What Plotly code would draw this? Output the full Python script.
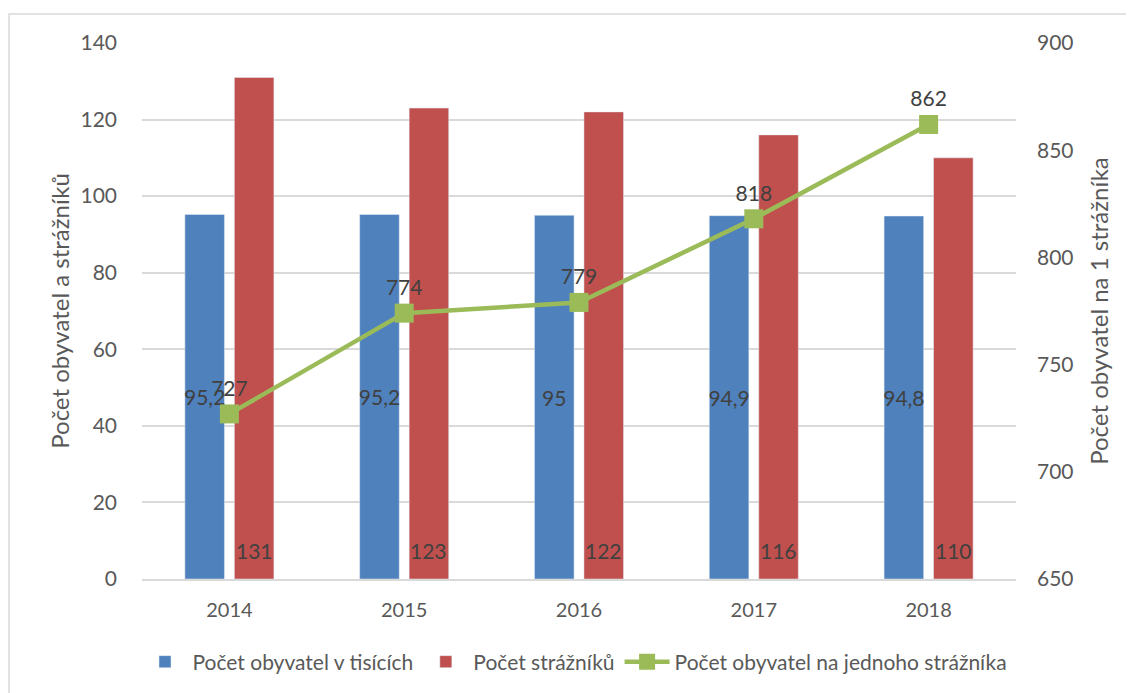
import plotly.graph_objects as go

years = ["2014", "2015", "2016", "2017", "2018"]
obyvatel_tis = [95.2, 95.2, 95.0, 94.9, 94.8]
straznici = [131, 123, 122, 116, 110]
obyv_na_straznika = [727, 774, 779, 818, 862]

names = ["Počet obyvatel v tisících", "Počet strážníků", "Počet obyvatel na jednoho strážníka"]
BLUE, RED, GREEN = "#4F81BD", "#C0504D", "#9BBB59"

W, H = 1134, 693
L, R, T, B = 134, 126, 35, 122
PW, PH = W - L - R, H - T - B

def fmt(v):
    return ("%g" % v).replace(".", ",")

FONT = "Lato, Open Sans, sans-serif"
TXT = "#404040"
TICK = "#595959"
LBL = 21

fig = go.Figure()
fig.add_trace(go.Bar(
    x=years, y=obyvatel_tis, name=names[0],
    marker=dict(color=BLUE),
    text=[fmt(v) for v in obyvatel_tis], textposition="inside",
    insidetextanchor="middle", textangle=0, constraintext="none",
    textfont=dict(color=TXT, size=LBL, family=FONT),
    cliponaxis=False,
))
fig.add_trace(go.Bar(
    x=years, y=straznici, name=names[1],
    marker=dict(color=RED),
    textposition="none",
    cliponaxis=False,
))
fig.add_trace(go.Scatter(
    x=years, y=obyv_na_straznika, name=names[2],
    yaxis="y2", mode="lines+markers+text",
    line=dict(color=GREEN, width=4.5),
    marker=dict(symbol="square", size=19, color=GREEN),
    text=[fmt(v) for v in obyv_na_straznika], textposition="top center",
    textfont=dict(color=TXT, size=LBL, family=FONT),
    cliponaxis=False,
))

# red bar labels, at the base of each bar (x given as category index)
slot = PW / len(years) * (1 - 0.434) / 2
for i, v in enumerate(straznici):
    fig.add_annotation(x=i, y=0, xref="x", yref="y", text=fmt(v),
                       showarrow=False, yanchor="bottom", yshift=14,
                       xshift=slot / 2,
                       font=dict(color=TXT, size=LBL, family=FONT))

fig.update_layout(
    width=W, height=H,
    margin=dict(l=L, r=R, t=T, b=B),
    paper_bgcolor="white", plot_bgcolor="white",
    font=dict(family=FONT, color=TICK, size=20),
    barmode="group", bargap=0.434, bargroupgap=0.2,
    xaxis=dict(
        type="category", range=[-0.5, len(years) - 0.5],
        showgrid=False, showline=True, linecolor="#D9D9D9", linewidth=1.5,
        tickfont=dict(size=20, color=TICK, family=FONT),
        ticks="outside", ticklen=12, tickcolor="rgba(0,0,0,0)",
    ),
    yaxis=dict(
        range=[0, 140], dtick=20, showgrid=True, gridcolor="#D9D9D9", gridwidth=1.5,
        zeroline=False, showline=False, ticks="",
        tickfont=dict(size=21, color=TICK, family=FONT), ticklabelstandoff=24,
        title=dict(text="Počet obyvatel a strážníků", font=dict(size=24, color=TICK, family=FONT), standoff=4),
    ),
    yaxis2=dict(
        range=[650, 900], dtick=50, overlaying="y", side="right",
        showgrid=False, zeroline=False, showline=False, ticks="",
        tickfont=dict(size=21, color=TICK, family=FONT), ticklabelstandoff=20,
        title=dict(text="Počet obyvatel na 1 strážníka", font=dict(size=24, color=TICK, family=FONT), standoff=18),
    ),
    legend=dict(
        orientation="h", x=0.5, xanchor="center", xref="container",
        y=(H - 654) / H, yref="container", yanchor="middle",
        font=dict(size=21, color=TICK, family=FONT), itemwidth=45,
        traceorder="normal",
    ),
    shapes=[dict(
        type="rect", xref="paper", yref="paper",
        x0=(1 - L) / PW, x1=(W + 5 - L) / PW,
        y0=-(B + 10) / PH, y1=(H - 6 - B) / PH,
        line=dict(color="#D9D9D9", width=1.5), fillcolor="rgba(0,0,0,0)", layer="below",
    )],
)

fig.write_html("out.html")
